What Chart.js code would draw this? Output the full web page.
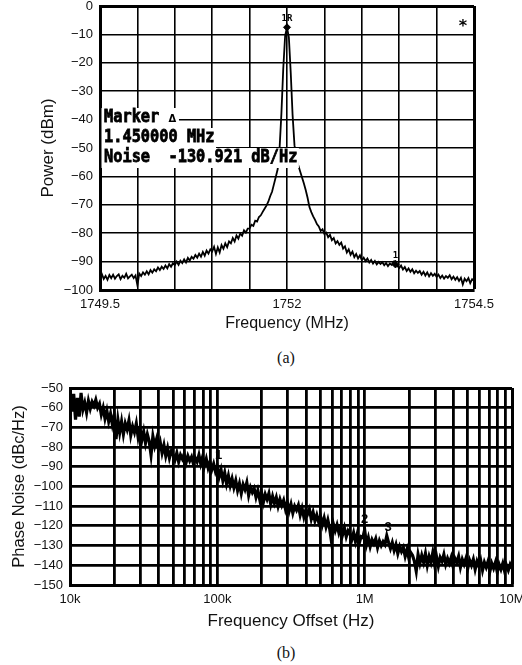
<!DOCTYPE html>
<html>
<head>
<meta charset="utf-8">
<script src="https://cdn.jsdelivr.net/npm/chart.js@4.4.1/dist/chart.umd.min.js"></script>
<style>
  html, body { margin: 0; padding: 0; background: #fff; }
  body { width: 522px; height: 665px; position: relative; overflow: hidden; }
  canvas { position: absolute; left: 0; }
  #spec { top: 0; }
  #pn { top: 340px; }
  .cap { position: absolute; left: 25px; width: 522px; text-align: center;
         font: 16px "Liberation Serif", serif; line-height: 18px; color: #111; }
</style>
</head>
<body>
<canvas id="spec" width="522" height="335"></canvas>
<div class="cap" style="top:349px">(a)</div>
<canvas id="pn" width="522" height="300"></canvas>
<div class="cap" style="top:644px">(b)</div>

<script>
// ---- (a) spectrum, sweep 1749.5 .. 1754.5 MHz ----
const specStart = 1749.5;
const specStop = 1754.5;
const specPower = [
  -95.3,-94.4,-96.1,-95.0,-96.4,-94.7,-95.8,-94.6,-96.0,-95.1,
  -94.5,-96.2,-95.0,-95.7,-94.3,-95.9,-95.2,-94.6,-95.8,-94.9,
  -98.3,-94.2,-95.1,-93.8,-94.6,-93.4,-94.5,-93.0,-93.9,-92.7,
  -93.4,-92.1,-93.0,-91.8,-92.6,-91.4,-92.4,-90.9,-91.8,-90.6,
  -91.2,-90.0,-91.1,-89.7,-90.5,-89.2,-90.3,-88.7,-89.6,-88.3,
  -89.0,-87.7,-88.6,-87.2,-88.3,-86.6,-87.9,-86.1,-87.2,-85.7,
  -86.4,-84.8,-87.3,-85.0,-86.8,-84.2,-85.5,-83.6,-84.9,-82.9,
  -83.6,-81.7,-82.9,-80.8,-81.9,-80.1,-80.9,-79.0,-79.8,-78.4,
  -78.3,-77.0,-77.4,-75.6,-75.9,-74.3,-73.7,-72.5,-71.4,-70.3,
  -68.9,-67.0,-65.4,-62.8,-60.2,-57.5,-50.5,-38.0,-22.0,-10.5,
  -7.5,
  -11.0,-23.5,-38.5,-49.0,-53.5,-56.0,-58.2,-60.3,-62.4,-64.8,
  -67.5,-70.8,-72.6,-74.1,-75.3,-76.8,-77.6,-79.2,-78.6,-80.3,
  -79.8,-81.4,-80.6,-82.5,-81.7,-83.6,-82.8,-84.1,-83.3,-85.4,
  -84.6,-86.8,-85.7,-87.6,-86.5,-88.4,-87.3,-88.9,-87.8,-89.5,
  -88.6,-89.8,-88.9,-90.3,-89.4,-90.7,-89.8,-91.0,-90.1,-90.8,
  -90.2,-91.3,-90.5,-91.6,-90.7,-91.2,-90.0,-89.8,-91.5,-92.3,
  -91.4,-92.8,-91.9,-93.3,-92.4,-93.6,-92.7,-94.1,-93.2,-94.0,
  -93.3,-94.6,-93.6,-94.9,-93.8,-95.2,-94.1,-95.0,-94.3,-95.4,
  -94.6,-95.8,-94.9,-96.0,-95.1,-95.7,-94.8,-96.2,-95.3,-96.4,
  -95.5,-96.8,-95.7,-98.0,-96.0,-96.9,-95.8,-97.6,-96.2,-96.8
];
const specGrid = [1749.5, 1750, 1750.5, 1751, 1751.5, 1752, 1752.5, 1753, 1753.5, 1754, 1754.5];
const specTickValues = [1749.5, 1752, 1754.5];
const specTickLabels = ['1749.5', '1752', '1754.5'];
const specMarkerFreq = [1752.0, 1753.45];
const specMarkerPower = [-7.5, -91.0];
const specMarkerText = ['1R', '1'];
const specNote = ['Marker \u0394', '1.450000 MHz', 'Noise  -130.921 dB/Hz'];

// ---- (b) phase noise, offsets 10 kHz .. 10 MHz (log sweep) ----
const pnStart = 1e4;
const pnStop = 1e7;
const pnLevel = [
  -50.5,-62.0,-53.0,-66.0,-55.0,-64.5,-52.5,-61.0,-57.5,
  -62.5,-56.5,-60.5,-57.0,-59.0,-56.0,-60.0,-58.0,
  -63.5,-60.0,-65.5,-61.5,-67.0,-63.0,-68.5,-64.0,
  -76.0,-66.0,
  -72.5,-67.0,-73.5,-68.0,-71.0,-66.5,-74.0,-69.5,-72.5,-68.0,-75.0,-70.5,
  -76.5,-72.0,-78.0,-73.5,-77.0,-84.0,-74.5,-79.5,-76.0,
  -81.0,-77.5,-83.0,-79.0,-84.5,-80.5,-85.5,-82.0,-84.0,
  -86.5,-83.0,-87.5,-84.0,-86.0,-83.5,-88.0,-84.5,-87.0,-85.0,-88.5,-85.5,-87.5,-84.0,
  -88.5,-85.0,-89.5,-86.0,-90.5,-87.5,-91.5,-88.5,-92.5,-90.0,
  -95.0,-91.5,-97.0,-93.0,-98.5,-94.5,-99.5,-96.0,
  -100.5,-97.0,-102.0,-98.5,-103.5,-99.0,-101.5,-98.0,-104.5,-100.5,-103.0,-101.0,-105.5,-102.0,
  -106.5,-103.0,-108.0,-104.0,-106.5,-103.5,-109.0,-105.0,-108.5,-105.5,-110.0,-106.5,-109.5,-107.0,
  -111.5,-108.0,-112.5,-109.0,-113.5,-110.0,-112.0,-109.5,-114.5,-111.0,-115.5,-112.0,-114.0,-111.5,-116.5,-113.0,-117.5,-114.5,
  -118.0,-115.0,-119.5,-116.0,-120.5,-117.0,-121.5,-128.0,-119.0,-122.5,-119.5,-123.5,-120.5,-124.5,-121.0,-125.5,-122.5,-124.0,
  -127.0,-123.5,-128.0,-124.0,-129.0,-125.5,-126.0,-122.0,
  -129.5,-126.0,-130.5,-127.0,-129.0,-126.5,-131.0,-127.5,-130.0,-128.0,-129.5,-125.0,-128.5,
  -131.5,-128.5,-132.5,-129.5,-134.0,-130.5,-133.0,-131.0,-135.5,-132.0,-136.5,-133.5,-135.0,
  -138.0,-143.0,-134.5,-139.0,-135.0,-138.5,-134.0,-140.0,-135.5,-138.5,-133.5,-139.5,-135.5,-140.5,-136.0,-138.0,-134.5,-139.5,-136.5,
  -139.0,-136.0,-140.5,-136.5,-138.5,-135.5,-141.0,-137.0,-139.5,-136.5,
  -141.5,-137.5,-140.0,-137.0,-142.0,-138.0,-140.5,-137.5,-142.5,-138.5,
  -141.0,-138.0,-143.0,-139.0,-141.5,-138.5,-143.5,-139.5,-142.0,-139.0,
  -143.0,-140.0,-142.5,-139.5,-141.5
];
const pnTickValues = [1e4, 1e5, 1e6, 1e7];
const pnTickLabels = ['10k', '100k', '1M', '10M'];
const pnMarkerFreq = [1.02e5, 1.0e6, 1.44e6];
const pnMarkerLevel = [-84, -116.5, -121];
const pnMarkerText = ['1', '2', '3'];

const FONT = '"Liberation Sans", Arial, sans-serif';
const INK = '#111';

// sweep grids
const specFreq = specPower.map((_, i) => specStart + (specStop - specStart) * i / (specPower.length - 1));
const pnOffset = pnLevel.map((_, k) => pnStart * Math.pow(pnStop / pnStart, k / (pnLevel.length - 1)));

// log grid: 1..9 per decade
const pnGrid = [];
for (let d = pnStart; d < pnStop; d *= 10) {
  for (let m = 1; m <= 9; m++) pnGrid.push(m * d);
}
pnGrid.push(pnStop);

function minusLabel(v) {
  return v < 0 ? '\u2212' + Math.abs(v) : String(v);
}

// text box, marker labels and asterisk on the spectrum plot
const specNotes = {
  id: 'specNotes',
  afterDatasetsDraw(chart) {
    const { ctx, chartArea: a, scales: { x, y } } = chart;
    ctx.save();
    ctx.fillStyle = '#000';
    ctx.textAlign = 'center';
    ctx.font = 'bold 9px "DejaVu Sans Mono"';
    specMarkerText.forEach((t, i) => {
      ctx.fillText(t, x.getPixelForValue(specMarkerFreq[i]), y.getPixelForValue(specMarkerPower[i]) - 6);
    });
    ctx.font = 'bold 16px "DejaVu Sans"';
    ctx.fillText('*', a.right - 11, a.top + 25);

    ctx.textAlign = 'left';
    ctx.strokeStyle = '#000';
    ctx.lineWidth = 0.7;
    specNote.forEach((t, i) => {
      const base = a.top + 116 + i * 20;
      ctx.font = 'bold 15.3px "DejaVu Sans Mono"';
      const d = t.indexOf('\u0394');
      const head = d >= 0 ? t.slice(0, d) : t;
      const hw = ctx.measureText(head).width;
      const w = d >= 0 ? hw + 9 : hw;
      ctx.fillStyle = '#fff';
      ctx.fillRect(a.left + 1.5, base - 14, w + 4, 20);
      ctx.fillStyle = '#000';
      ctx.save();
      ctx.translate(a.left + 4, base);
      ctx.scale(1, 1.1);
      ctx.fillText(head, 0, 0);
      ctx.strokeText(head, 0, 0);
      if (d >= 0) {
        ctx.font = 'bold 10px "DejaVu Sans"';
        ctx.fillText('\u0394', hw, 0);
      }
      ctx.restore();
    });
    ctx.restore();
  }
};

new Chart(document.getElementById('spec'), {
  type: 'line',
  data: {
    datasets: [
      {
        data: specFreq.map((f, i) => ({ x: f, y: specPower[i] })),
        borderColor: '#000',
        borderWidth: 1.8,
        pointRadius: 0,
        tension: 0
      },
      {
        type: 'scatter',
        data: specMarkerFreq.map((f, i) => ({ x: f, y: specMarkerPower[i] })),
        pointStyle: 'rectRot',
        pointRadius: 3.5,
        backgroundColor: '#000',
        borderColor: '#000'
      }
    ]
  },
  options: {
    responsive: false,
    animation: false,
    devicePixelRatio: 1,
    layout: { padding: { left: 0, right: 48, top: 6, bottom: 0 } },
    plugins: { legend: { display: false }, tooltip: { enabled: false } },
    scales: {
      x: {
        type: 'linear',
        min: specStart,
        max: specStop,
        afterBuildTicks: s => { s.ticks = specGrid.map(v => ({ value: v })); },
        afterFit: s => { s.height = 45; s.paddingLeft = 0; s.paddingRight = 0; },
        grid: {
          color: '#000',
          drawTicks: false,
          lineWidth: c => (c.tick && c.tick.value >= specStop) ? 3 : 1.6
        },
        border: { display: true, color: '#000', width: 3 },
        ticks: {
          autoSkip: false,
          maxRotation: 0,
          padding: 7,
          color: INK,
          font: { family: FONT, size: 13 },
          callback: v => {
            const k = specTickValues.indexOf(v);
            return k >= 0 ? specTickLabels[k] : '';
          }
        },
        title: {
          display: true,
          text: 'Frequency (MHz)',
          color: INK,
          font: { family: FONT, size: 16 },
          padding: { top: 0, bottom: 2 }
        }
      },
      y: {
        min: -100,
        max: 0,
        afterFit: s => { s.width = 100; s.paddingTop = 0; s.paddingBottom = 0; },
        grid: {
          color: '#000',
          drawTicks: false,
          lineWidth: c => (c.tick && c.tick.value === 0) ? 3 : 1.6
        },
        border: { display: true, color: '#000', width: 3 },
        ticks: {
          stepSize: 10,
          padding: 7,
          color: INK,
          font: { family: FONT, size: 13 },
          callback: v => minusLabel(v)
        },
        title: {
          display: true,
          text: 'Power (dBm)',
          color: INK,
          font: { family: FONT, size: 17 },
          padding: { top: 38, bottom: 0 }
        }
      }
    }
  },
  plugins: [specNotes]
});

// marker numbers on the phase-noise plot
const pnNotes = {
  id: 'pnNotes',
  afterDatasetsDraw(chart) {
    const { ctx, scales: { x, y } } = chart;
    ctx.save();
    ctx.font = 'bold 13px ' + FONT;
    ctx.textAlign = 'center';
    ctx.textBaseline = 'middle';
    ctx.fillStyle = '#000';
    pnMarkerText.forEach((t, i) => {
      ctx.fillText(t, x.getPixelForValue(pnMarkerFreq[i]), y.getPixelForValue(pnMarkerLevel[i]));
    });
    ctx.restore();
  }
};

new Chart(document.getElementById('pn'), {
  type: 'line',
  data: {
    datasets: [{
      data: pnOffset.map((f, i) => ({ x: f, y: pnLevel[i] })),
      borderColor: '#000',
      borderWidth: 3.2,
      borderJoinStyle: 'miter',
      pointRadius: 0,
      tension: 0
    }]
  },
  options: {
    responsive: false,
    animation: false,
    devicePixelRatio: 1,
    layout: { padding: { left: 0, right: 10, top: 48, bottom: 0 } },
    plugins: { legend: { display: false }, tooltip: { enabled: false } },
    scales: {
      x: {
        type: 'logarithmic',
        min: pnStart,
        max: pnStop,
        afterBuildTicks: s => { s.ticks = pnGrid.map(v => ({ value: v })); },
        afterFit: s => { s.height = 55; s.paddingLeft = 0; s.paddingRight = 0; },
        grid: {
          color: '#000',
          drawTicks: false,
          lineWidth: c => (c.tick && c.tick.value >= pnStop) ? 3 : 2.8
        },
        border: { display: true, color: '#000', width: 3 },
        ticks: {
          autoSkip: false,
          maxRotation: 0,
          padding: 7,
          color: INK,
          font: { family: FONT, size: 13 },
          callback: v => {
            const k = pnTickValues.indexOf(v);
            return k >= 0 ? pnTickLabels[k] : '';
          }
        },
        title: {
          display: true,
          text: 'Frequency Offset (Hz)',
          color: INK,
          font: { family: FONT, size: 17 },
          padding: { top: 0, bottom: 8 }
        }
      },
      y: {
        min: -150,
        max: -50,
        afterFit: s => { s.width = 70; s.paddingTop = 0; s.paddingBottom = 0; },
        grid: {
          color: '#000',
          drawTicks: false,
          lineWidth: c => (c.tick && c.tick.value === -50) ? 3 : 2.8
        },
        border: { display: true, color: '#000', width: 3 },
        ticks: {
          stepSize: 10,
          padding: 7,
          color: INK,
          font: { family: FONT, size: 13 },
          callback: v => minusLabel(v)
        },
        title: {
          display: true,
          text: 'Phase Noise (dBc/Hz)',
          color: INK,
          font: { family: FONT, size: 16.5 },
          padding: { top: 9.5, bottom: 0 }
        }
      }
    }
  },
  plugins: [pnNotes]
});
</script>
</body>
</html>
